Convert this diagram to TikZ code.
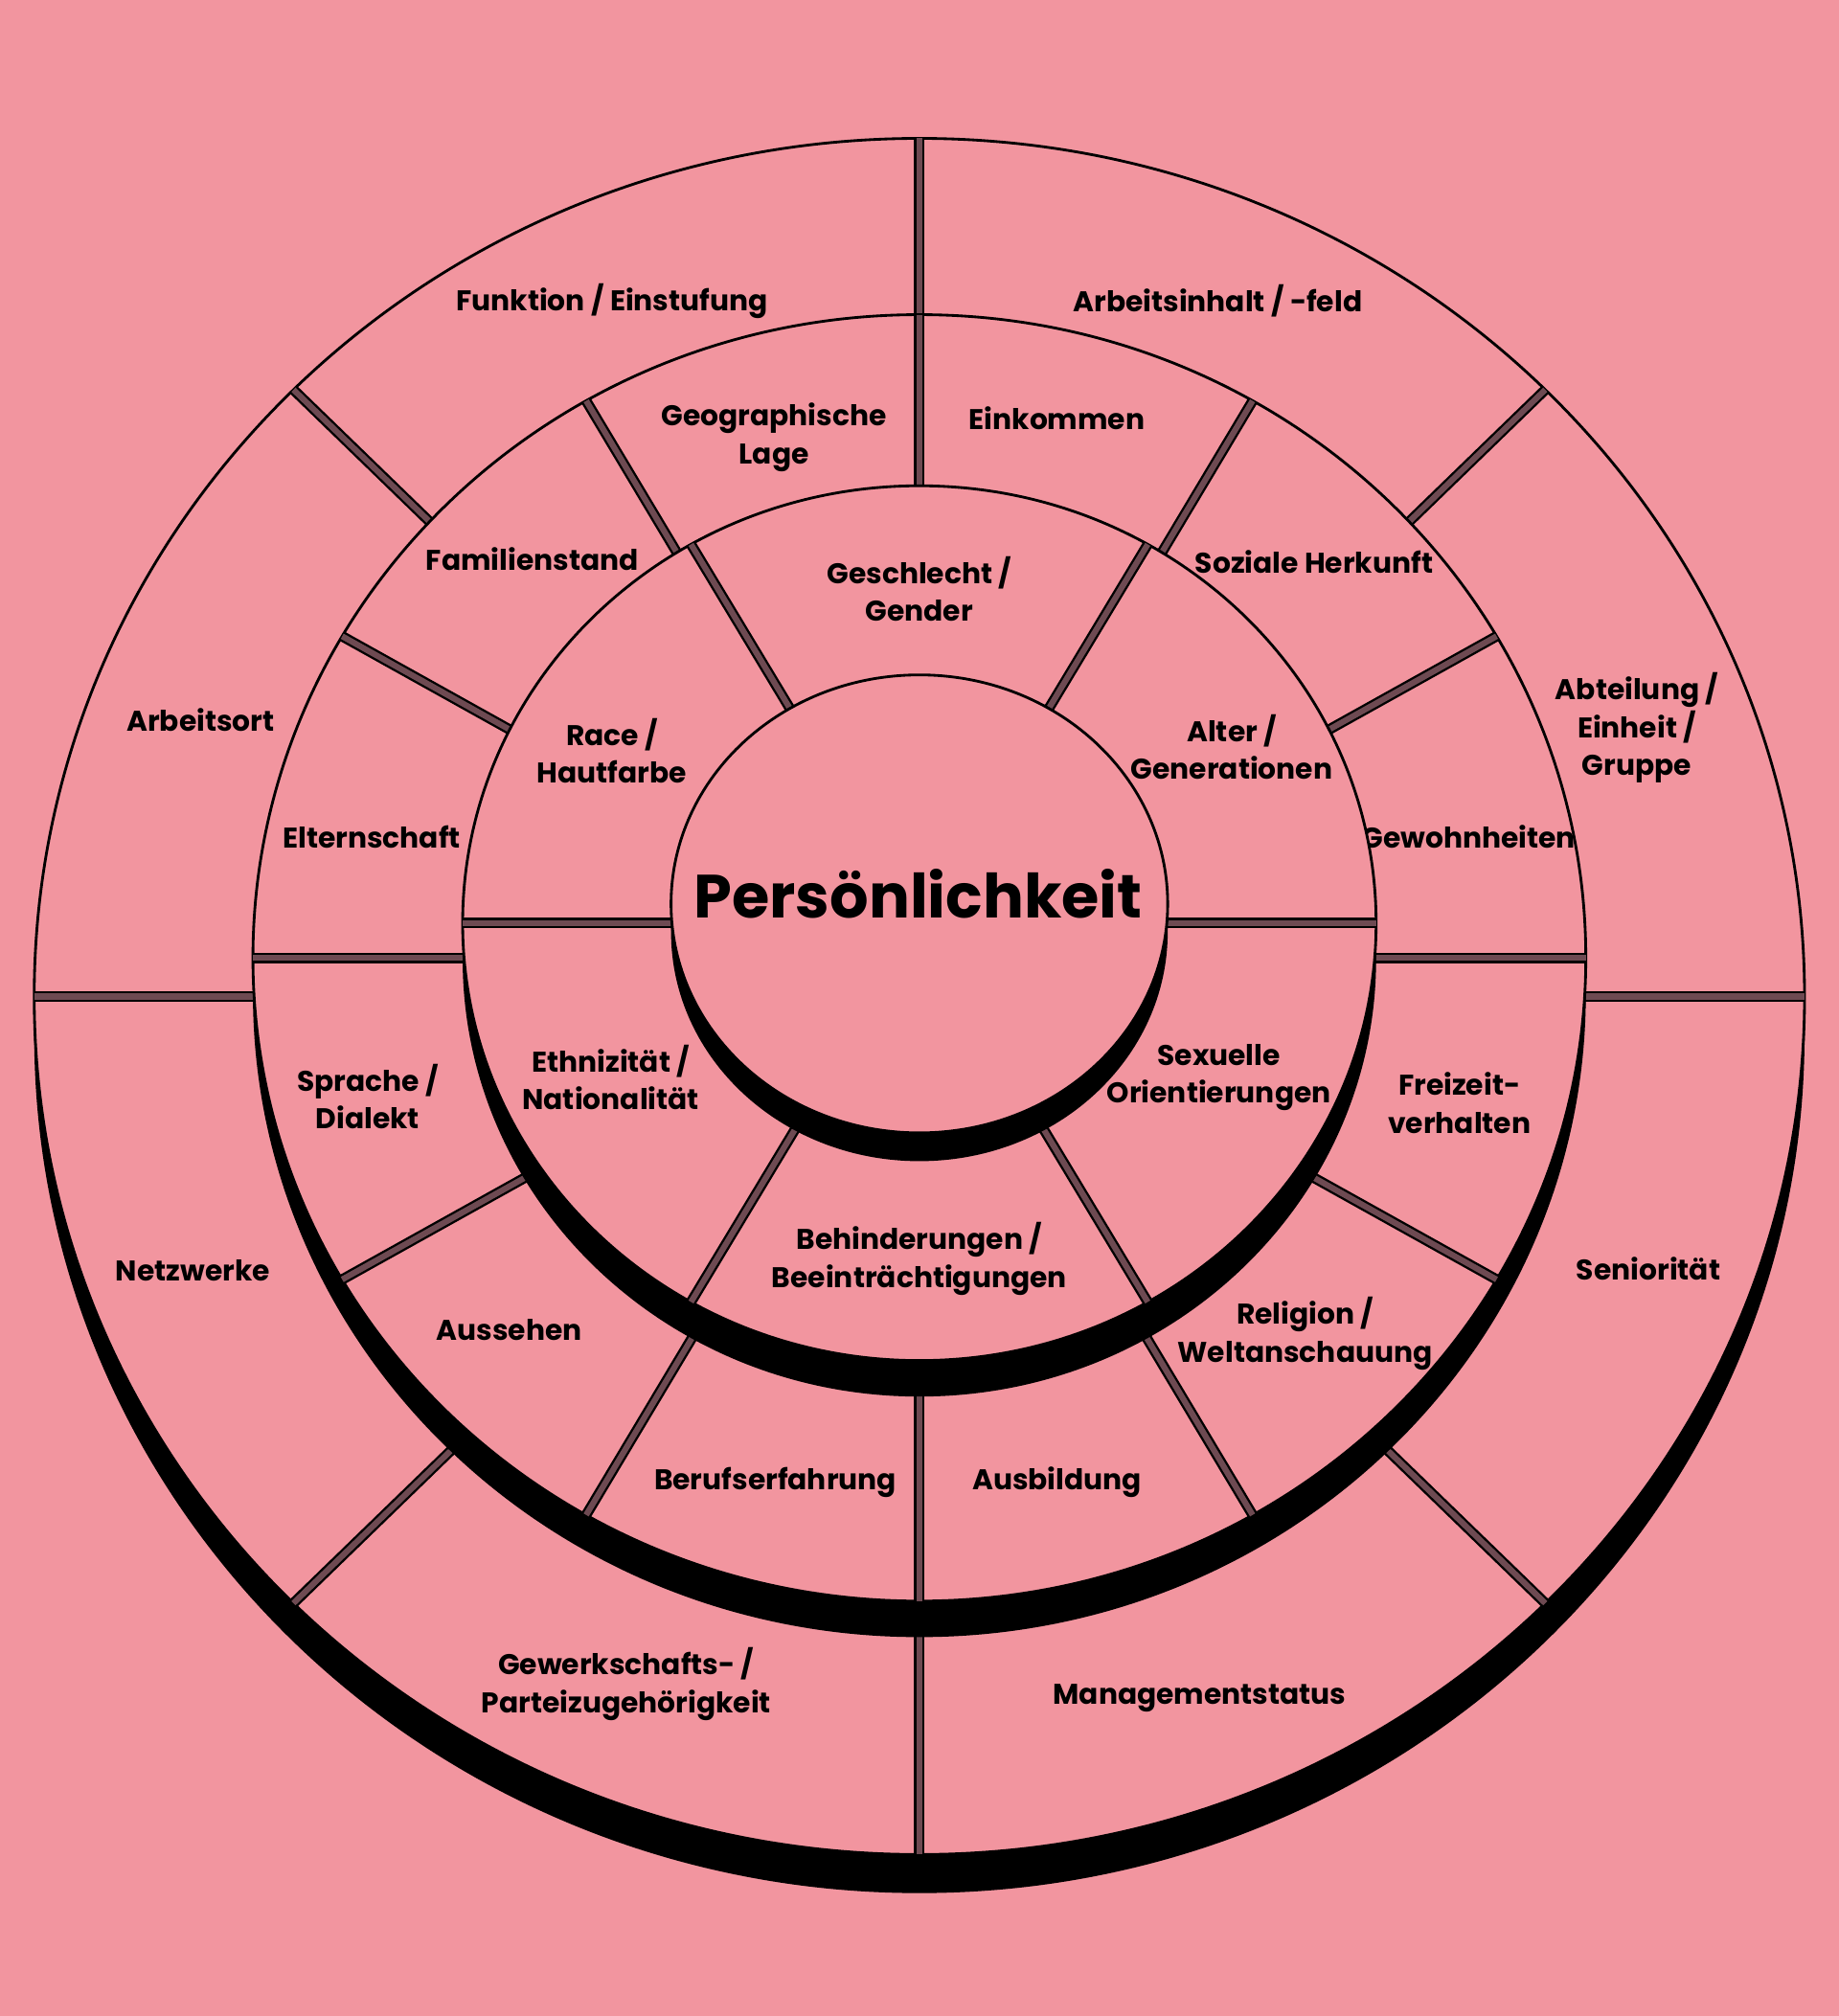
\documentclass[tikz,border=0pt]{standalone}
\usepackage{fontspec}
\setmainfont{Poppins}
\usetikzlibrary{calc}
\definecolor{wheelpink}{HTML}{F2959F}
\definecolor{divgray}{HTML}{6E4A52}
\tikzset{
  ring/.style={draw=black, line width=0.6pt, fill=wheelpink},
  shadow/.style={fill=black},
  divider/.style={draw=black, line width=0.5pt, double=divgray, double distance=1.3pt},
  lbl/.style={align=center, font=\bfseries\fontsize{6.3}{8.4}\selectfont}
}

\begin{document}
\begin{tikzpicture}[x=0.01cm,y=-0.01cm]
    \fill[wheelpink] (0,0) rectangle (1430,1568);
    \useasboundingbox (0,0) rectangle (1430,1568);
    % outer ring
    \coordinate (c3) at (715,775);
    \fill[shadow] (715,805) ellipse [x radius=6.88cm, y radius=6.67cm];
    \draw[ring] (c3) ellipse [x radius=6.88cm, y radius=6.67cm];
    \foreach \a in {90,45,0,-45,-90,-135,180,135}
        \draw[divider] (c3) -- ($(c3)+(\a:6.88cm and 6.67cm)$);
    \node[lbl] (funktion) at (476,234) {Funktion / Einstufung};
    \node[lbl] (arbeitsinhalt) at (947,234) {Arbeitsinhalt / -feld};
    \node[lbl] (abteilung) at (1273,566) {Abteilung /\\Einheit /\\Gruppe};
    \node[lbl] (senioritaet) at (1282,987) {Seniorität};
    \node[lbl] (management) at (933,1321) {Managementstatus};
    \node[lbl] (gewerkschaft) at (487,1310) {Gewerkschafts- /\\Parteizugehörigkeit};
    \node[lbl] (netzwerke) at (150,988) {Netzwerke};
    \node[lbl] (arbeitsort) at (156,560) {Arbeitsort};
    % middle ring
    \coordinate (c2) at (715,745);
    \fill[shadow] (715,773) ellipse [x radius=5.18cm, y radius=5.00cm];
    \draw[ring] (c2) ellipse [x radius=5.18cm, y radius=5.00cm];
    \foreach \a in {90,60,...,-240}
        \draw[divider] (c2) -- ($(c2)+(\a:5.18cm and 5.00cm)$);
    \node[lbl] (einkommen) at (822,325) {Einkommen};
    \node[lbl] (herkunft) at (1022,437) {Soziale Herkunft};
    \node[lbl] (gewohnheiten) at (1142,651) {Gewohnheiten};
    \node[lbl] (freizeit) at (1135,858) {Freizeit-\\verhalten};
    \node[lbl] (religion) at (1015,1037) {Religion /\\Weltanschauung};
    \node[lbl] (ausbildung) at (822,1153) {Ausbildung};
    \node[lbl] (beruf) at (603,1153) {Berufserfahrung};
    \node[lbl] (aussehen) at (396,1034) {Aussehen};
    \node[lbl] (sprache) at (286,853) {Sprache /\\Dialekt};
    \node[lbl] (elternschaft) at (289,651) {Elternschaft};
    \node[lbl] (familie) at (414,435) {Familienstand};
    \node[lbl] (lage) at (602,340) {Geographische\\Lage};
    % inner ring
    \coordinate (c1) at (715,718);
    \fill[shadow] (715,746) ellipse [x radius=3.55cm, y radius=3.40cm];
    \draw[ring] (c1) ellipse [x radius=3.55cm, y radius=3.40cm];
    \foreach \a in {120,60,0,-60,-120,180}
        \draw[divider] (c1) -- ($(c1)+(\a:3.55cm and 3.40cm)$);
    \node[lbl] (geschlecht) at (715,458) {Geschlecht /\\Gender};
    \node[lbl] (alter) at (958,581) {Alter /\\Generationen};
    \node[lbl] (sexuell) at (948,838) {Sexuelle\\Orientierungen};
    \node[lbl] (behinderung) at (715,979) {Behinderungen /\\Beeinträchtigungen};
    \node[lbl] (ethnie) at (475,838) {Ethnizität /\\Nationalität};
    \node[lbl] (race) at (476,584) {Race /\\Hautfarbe};
    % core
    \coordinate (c0) at (715,703);
    \fill[shadow] (715,725) ellipse [x radius=1.93cm, y radius=1.78cm];
    \draw[ring] (c0) ellipse [x radius=1.93cm, y radius=1.78cm];
    \node[font=\fontsize{13.5}{16}\selectfont\bfseries] (kern) at (714,695) {Persönlichkeit};
\end{tikzpicture}
\end{document}
